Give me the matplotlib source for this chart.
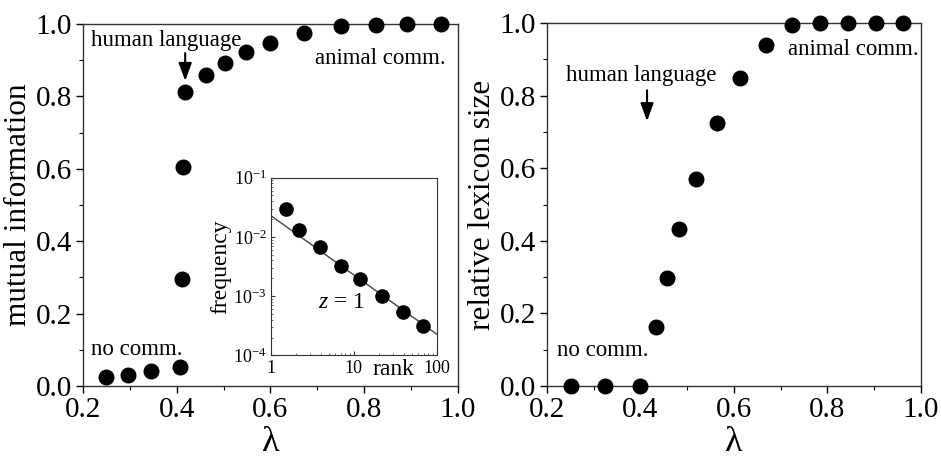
import numpy as np
import matplotlib
matplotlib.use("Agg")
import matplotlib.pyplot as plt
from matplotlib.ticker import (MultipleLocator, FixedLocator,
                               FormatStrFormatter, LogLocator, NullFormatter)

plt.rcParams['font.family'] = ['Liberation Serif', 'DejaVu Serif']
plt.rcParams['mathtext.fontset'] = 'custom'
plt.rcParams['mathtext.rm'] = 'Liberation Serif'
plt.rcParams['mathtext.it'] = 'Liberation Serif:italic'

# Mutual information vs lambda
lam_mi = [0.25, 0.296, 0.346, 0.406, 0.412, 0.413, 0.418, 0.462, 0.503,
          0.547, 0.600, 0.671, 0.750, 0.825, 0.892, 0.963]
mi = [0.024, 0.030, 0.041, 0.053, 0.296, 0.604, 0.813, 0.859, 0.893,
      0.924, 0.947, 0.976, 0.994, 0.998, 1.0, 1.0]

# Relative lexicon size vs lambda
lam_lex = [0.252, 0.325, 0.398, 0.433, 0.456, 0.483, 0.519, 0.563, 0.613,
           0.668, 0.724, 0.783, 0.843, 0.903, 0.961]
lexicon = [0.0, 0.0, 0.0, 0.162, 0.297, 0.432, 0.570, 0.724, 0.848,
           0.940, 0.995, 1.0, 1.0, 1.0, 1.0]

# Inset: rank-frequency at the transition
rank = [1.53, 2.21, 3.93, 6.97, 12.1, 22.1, 39.7, 67.8]
freq = [0.0293, 0.0130, 0.00664, 0.00327, 0.00195, 0.00102, 0.00055, 0.00032]
zipf_c = 0.023
zipf_z = 1.0

fig = plt.figure(figsize=(9.41, 4.61), dpi=100)
ax1 = fig.add_axes([0.0882, 0.1627, 0.3985, 0.785])
ax2 = fig.add_axes([0.5813, 0.1627, 0.3974, 0.787])
axin = fig.add_axes([0.2875, 0.2289, 0.1764, 0.386])

TICK_FS = 21
LAB_FS = 22.5
ANN_FS = 16.5
MS = 10.5
ARROW = dict(arrowstyle='-|>,head_length=0.6,head_width=0.22', color='black',
             lw=1.5, mutation_scale=18, shrinkA=0, shrinkB=0)

def style_main(ax, ylabel):
    ax.set_xlim(0.2, 1.0)
    ax.set_ylim(0.0, 1.0)
    ax.xaxis.set_major_locator(MultipleLocator(0.2))
    ax.xaxis.set_minor_locator(MultipleLocator(0.1))
    ax.yaxis.set_major_locator(MultipleLocator(0.2))
    ax.yaxis.set_minor_locator(MultipleLocator(0.1))
    ax.xaxis.set_major_formatter(FormatStrFormatter('%.1f'))
    ax.yaxis.set_major_formatter(FormatStrFormatter('%.1f'))
    ax.tick_params(which='major', direction='out', length=5, width=1,
                   labelsize=TICK_FS, top=False, right=False, pad=3)
    ax.tick_params(which='minor', direction='out', length=3, width=0.8,
                   top=False, right=False)
    for s in ax.spines.values():
        s.set_linewidth(1.0)
        s.set_color('#333333')
    ax.set_xlabel('λ', fontsize=26, labelpad=2)
    ax.set_ylabel(ylabel, fontsize=LAB_FS, labelpad=2)

style_main(ax1, 'mutual information')
style_main(ax2, 'relative lexicon size')

ax1.plot(lam_mi, mi, 'o', color='black', ms=MS, clip_on=False, zorder=5)
ax2.plot(lam_lex, lexicon, 'o', color='black', ms=MS, clip_on=False, zorder=5)

# Annotations, left panel
ax1.text(0.218, 0.94, 'human language', fontsize=ANN_FS, ha='left', va='baseline')
ax1.text(0.973, 0.891, 'animal comm.', fontsize=ANN_FS, ha='right', va='baseline')
ax1.text(0.218, 0.086, 'no comm.', fontsize=ANN_FS, ha='left', va='baseline')
ax1.annotate('', xy=(0.418, 0.843), xytext=(0.418, 0.92), arrowprops=ARROW)

# Annotations, right panel
ax2.text(0.241, 0.84, 'human language', fontsize=ANN_FS, ha='left', va='baseline')
ax2.text(0.716, 0.913, 'animal comm.', fontsize=ANN_FS, ha='left', va='baseline')
ax2.text(0.221, 0.083, 'no comm.', fontsize=ANN_FS, ha='left', va='baseline')
ax2.annotate('', xy=(0.414, 0.730), xytext=(0.414, 0.815), arrowprops=ARROW)

# Inset
axin.set_xscale('log')
axin.set_yscale('log')
axin.set_xlim(1, 100)
axin.set_ylim(1e-4, 1e-1)
r_line = np.array([1.0, 100.0])
axin.plot(r_line, zipf_c * r_line ** (-zipf_z), color='#444444', lw=1.0)
axin.plot(rank, freq, 'o', color='black', ms=9.5, zorder=5, clip_on=False)
axin.xaxis.set_major_locator(FixedLocator([1, 10, 100]))
axin.xaxis.set_minor_locator(LogLocator(base=10, subs=np.arange(2, 10)))
axin.xaxis.set_minor_formatter(NullFormatter())
axin.yaxis.set_major_locator(FixedLocator([1e-4, 1e-3, 1e-2, 1e-1]))
axin.yaxis.set_minor_locator(LogLocator(base=10, subs=np.arange(2, 10)))
axin.yaxis.set_minor_formatter(NullFormatter())
axin.set_xticklabels(['1', '10', '100'])
axin.set_yticklabels([r'$10^{-4}$', r'$10^{-3}$', r'$10^{-2}$', r'$10^{-1}$'])
axin.tick_params(which='major', direction='in', length=3, width=0.8,
                 labelsize=13, pad=3, colors='#333333', labelcolor='black')
axin.tick_params(which='minor', direction='in', length=1.5, width=0.6,
                 colors='#555555')
for s in axin.spines.values():
    s.set_linewidth(0.8)
    s.set_color('#333333')
axin.set_ylabel('frequency', fontsize=17, labelpad=1)
axin.text(0.74, -0.02, 'rank', fontsize=17, transform=axin.transAxes,
          ha='center', va='top')
axin.text(3.75, 6.4e-4, r'$z$ = 1', fontsize=17, ha='left', va='baseline')

fig.savefig('out.png', dpi=100)
